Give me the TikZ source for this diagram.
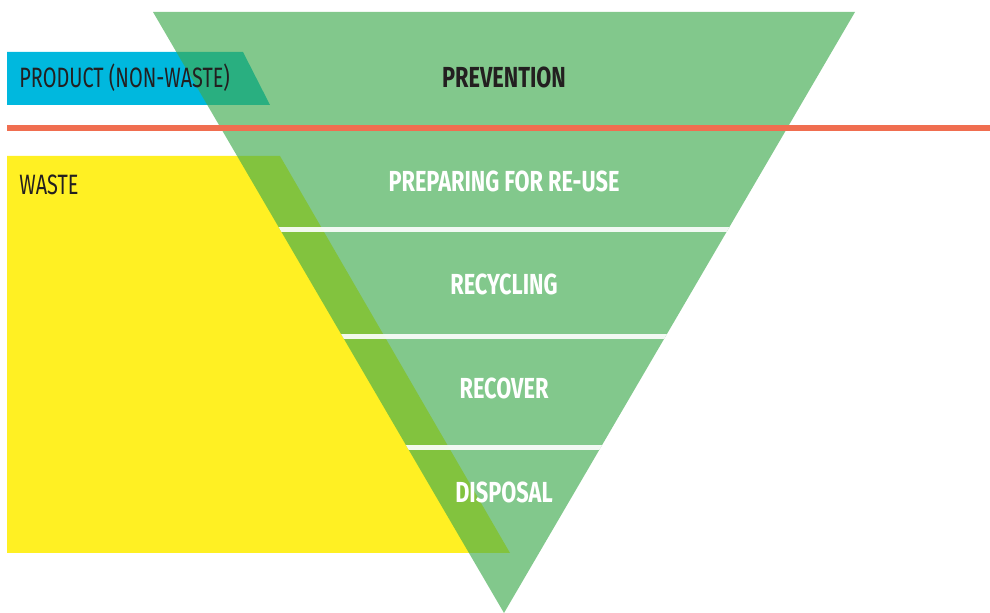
\documentclass[tikz,border=0pt]{standalone}
\usepackage{fontspec}
\setmainfont{Fira Sans}[FakeStretch=0.75]
\newfontfamily\sidefont{Fira Sans}[FakeStretch=0.71]
\usepackage{tikz}
\usetikzlibrary{positioning}
\definecolor{layergreen}{RGB}{63,171,78}
\definecolor{wasteyellow}{RGB}{255,240,35}
\definecolor{productblue}{RGB}{0,184,222}
\definecolor{lineorange}{RGB}{240,110,80}
\definecolor{textdark}{RGB}{35,31,32}
\tikzstyle{layer} = [anchor=base, text=white, font=\fontsize{14.5}{16}\selectfont\bfseries, inner sep=0pt]
\tikzstyle{side} = [anchor=base west, text=textdark, font=\sidefont\fontsize{14}{16}\selectfont, inner sep=0pt]

\begin{document}
\begin{tikzpicture}[x=0.5pt, y=-0.5pt]
    \useasboundingbox (0,0) rectangle (990,613);
    % Areas behind the pyramid
    \fill [wasteyellow] (7,156) -- (280,156) -- (510,553) -- (7,553) -- cycle;
    \fill [productblue] (7,52) -- (243,52) -- (270,105) -- (7,105) -- cycle;
    
    % Pyramid
    \coordinate (tl) at (153,12);
    \coordinate (tr) at (855,12);
    \coordinate (apex) at (504,613);
    \fill [layergreen, opacity=0.65] (tl) -- (tr) -- (apex) -- cycle;
    
    % Gaps between layers
    \begin{scope}
        \clip (tl) -- (tr) -- (apex) -- cycle;
        \foreach \y in {229.5, 336.5, 447.5}
            \fill [white, opacity=0.9] (0,\y-2.5) rectangle (990,\y+2.5);
    \end{scope}
    
    % Product / waste split
    \fill [lineorange] (7,125) rectangle (990,131);
    
    % Labels
    \node (prevention) [layer, text=textdark] at (504,88) {PREVENTION};
    \node (reuse) [layer] at (504,192) {PREPARING FOR RE-USE};
    \node (recycling) [layer] at (504,295) {RECYCLING};
    \node (recover) [layer] at (504,399) {RECOVER};
    \node (disposal) [layer] at (504,503) {DISPOSAL};
    \node (product) [side] at (19,88) {PRODUCT (NON-WASTE)};
    \node (waste) [side] at (19,195) {WASTE};
\end{tikzpicture}
\end{document}
